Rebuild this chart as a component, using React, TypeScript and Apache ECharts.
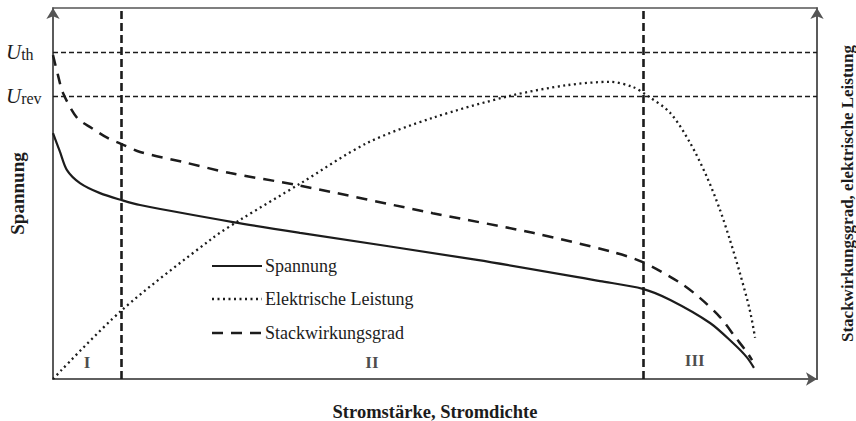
import { useEffect, useRef } from "react";
import * as echarts from "echarts";

// ---- data (x: Stromstärke in % of axis, y: value in % of axis) ----
const seriesNames = ["Spannung", "Elektrische Leistung", "Stackwirkungsgrad"];

const spannungX = [0, 0.92, 1.83, 3.53, 6.15, 9.03, 11.39, 23.56, 32.33, 55.5, 71.6, 77.2, 80.8, 86.0, 89.0, 90.8, 91.75];
const spannungY = [66.3, 61.2, 56.3, 52.8, 50.1, 48.2, 46.9, 42.3, 39.4, 32.1, 26.4, 24.3, 21.3, 15.1, 9.7, 5.9, 3.0];

const leistungX = [0, 9.03, 20.9, 24.5, 32.3, 41.1, 49.7, 59.8, 67.3, 72.9, 75.9, 77.7, 80.8, 83.4, 85.6, 87.3, 88.6, 89.9, 91.2, 91.9];
const leistungY = [0, 18.6, 38.0, 42.9, 52.6, 63.6, 70.4, 76.3, 79.2, 80.1, 78.7, 76.5, 71.7, 63.6, 54.4, 45.6, 37.5, 28.6, 18.6, 11.1];

const wirkungX = [0, 0.65, 1.31, 3.14, 5.1, 7.2, 8.9, 11.4, 17.0, 23.2, 31.9, 49.7, 62.8, 73.3, 77.2, 82.1, 84.7, 87.3, 89.3, 90.8, 91.5];
const wirkungY = [87.3, 81.9, 77.1, 70.4, 67.6, 64.9, 63.4, 61.2, 58.5, 55.5, 52.3, 44.7, 39.4, 34.2, 31.5, 25.9, 21.8, 16.7, 11.3, 7.3, 5.1];

const thresholdSubs = ["th", "rev"];
const thresholdValues = [88.1, 76.3];
const regionBounds = [8.9, 77.2];
const regionLabels = ["I", "II", "III"];
const regionLabelX = [4.45, 41.75, 84.0];
const regionLabelY = [4.4, 4.4, 4.9];

const axisTitles = {
  x: "Stromstärke, Stromdichte",
  yLeft: "Spannung",
  yRight: "Stackwirkungsgrad, elektrische Leistung",
};

const zip = (xs: number[], ys: number[]) => xs.map((x, i) => [x, ys[i]]);

const FONT = "Liberation Serif";
const INK = "#1c1c1c";
const AXIS = "#555";

export default function App() {
  const ref = useRef<HTMLDivElement>(null);

  useEffect(() => {
    document.body.style.margin = "0";
    if (!ref.current) return;
    const chart = echarts.init(ref.current, undefined, { renderer: "svg" });

    const arrowAxisLine = {
      show: true,
      symbol: ["none", "arrow"],
      symbolSize: [10, 11],
      lineStyle: { color: AXIS, width: 1.6 },
    };

    const markLineData: any[] = [
      ...thresholdValues.map((v, i) => ({
        yAxis: v,
        label: {
          show: true,
          position: "start",
          align: "left",
          distance: 47,
          formatter: `{u|U}{s|${thresholdSubs[i]}}`,
          rich: {
            u: { fontFamily: FONT, fontStyle: "italic", fontSize: 21, color: INK },
            s: { fontFamily: FONT, fontSize: 16, color: INK, padding: [5, 0, 0, 0] },
          },
        },
        lineStyle: { color: INK, width: 1.3, type: [5, 3] },
      })),
      ...regionBounds.map((v) => ({
        xAxis: v,
        label: { show: false },
        lineStyle: { color: INK, width: 2.6, type: [8, 4] },
      })),
    ];

    const legendTop = [266, 299, 333];
    const legendStyles = [
      { lineWidth: 2.2, lineDash: null },
      { lineWidth: 2.3, lineDash: [2, 3.5] },
      { lineWidth: 2.5, lineDash: [11, 8] },
    ];
    const graphic: any[] = [];
    seriesNames.forEach((name, i) => {
      graphic.push({
        type: "line",
        shape: { x1: 212, y1: legendTop[i], x2: 262, y2: legendTop[i] },
        style: { stroke: INK, lineWidth: legendStyles[i].lineWidth, lineDash: legendStyles[i].lineDash },
        silent: true,
      });
      graphic.push({
        type: "text",
        x: 265,
        y: legendTop[i],
        style: { text: name, fill: INK, font: `18px "${FONT}"`, verticalAlign: "middle", align: "left" },
        silent: true,
      });
    });

    chart.setOption({
      animation: false,
      backgroundColor: "#fff",
      grid: {
        left: 53,
        right: 39,
        top: 8,
        bottom: 42,
        show: true,
        borderColor: AXIS,
        borderWidth: 1.6,
        containLabel: false,
        outerBoundsMode: "none",
      },
      xAxis: {
        type: "value",
        min: 0,
        max: 100,
        axisLine: arrowAxisLine,
        axisTick: { show: false },
        axisLabel: { show: false },
        splitLine: { show: false },
        name: axisTitles.x,
        nameLocation: "middle",
        nameGap: 23,
        nameTextStyle: { fontFamily: FONT, fontWeight: "bold", fontSize: 18.5, color: INK },
      },
      yAxis: [
        {
          type: "value",
          min: 0,
          max: 100,
          position: "left",
          axisLine: arrowAxisLine,
          axisTick: { show: false },
          axisLabel: { show: false },
          splitLine: { show: false },
          name: axisTitles.yLeft,
          nameLocation: "middle",
          nameRotate: 90,
          nameGap: 26,
          nameTextStyle: { fontFamily: FONT, fontWeight: "bold", fontSize: 19, color: INK },
        },
        {
          type: "value",
          min: 0,
          max: 100,
          position: "right",
          axisLine: arrowAxisLine,
          axisTick: { show: false },
          axisLabel: { show: false },
          splitLine: { show: false },
          name: axisTitles.yRight,
          nameLocation: "middle",
          nameRotate: 90,
          nameGap: 22,
          nameTextStyle: { fontFamily: FONT, fontWeight: "bold", fontSize: 17, color: INK },
        },
      ],
      graphic,
      series: [
        {
          name: seriesNames[0],
          type: "line",
          data: zip(spannungX, spannungY),
          smooth: 0.3,
          symbol: "none",
          lineStyle: { color: INK, width: 2.2 },
          markLine: {
            silent: true,
            symbol: ["none", "none"],
            data: markLineData,
          },
        },
        {
          name: seriesNames[1],
          type: "line",
          data: zip(leistungX, leistungY),
          smooth: 0.3,
          symbol: "none",
          lineStyle: { color: INK, width: 2.3, type: [2, 3.5] },
        },
        {
          name: seriesNames[2],
          type: "line",
          data: zip(wirkungX, wirkungY),
          smooth: 0.3,
          symbol: "none",
          lineStyle: { color: INK, width: 2.5, type: [11, 8] },
        },
        {
          name: "Bereiche",
          type: "scatter",
          symbolSize: 0,
          data: zip(regionLabelX, regionLabelY).map((p, i) => ({ value: p, name: regionLabels[i] })),
          label: {
            show: true,
            position: "inside",
            formatter: (p: any) => p.name,
            fontFamily: FONT,
            fontWeight: "bold",
            fontSize: 17,
            color: INK,
          },
          silent: true,
        },
      ],
    });

    return () => chart.dispose();
  }, []);

  return <div ref={ref} style={{ width: 856, height: 421 }} />;
}
